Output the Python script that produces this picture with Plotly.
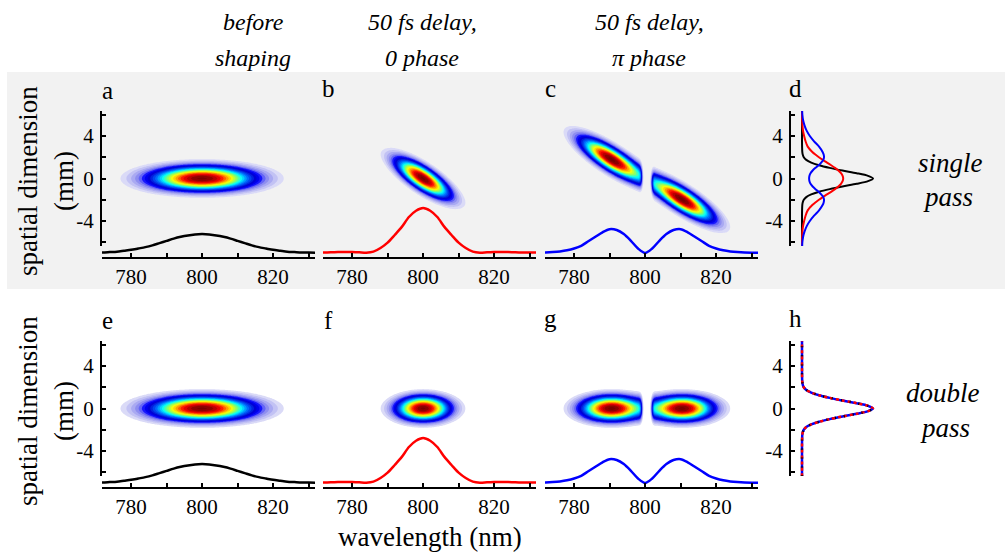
import numpy as np
import plotly.graph_objects as go

W, H = 1005, 552
FONT = "Liberation Serif"

# ---------------- data ----------------
# spectra (bottom curves of panels a/e, b/f, c/g), relative intensity
wl_spec = [770, 772, 774, 776, 778, 780, 782, 784, 786, 788, 790, 792, 794, 796, 798, 800,
           802, 804, 806, 808, 810, 812, 814, 816, 818, 820, 822, 824, 826, 828, 830, 832]
spec_before = [0.01, 0.01, 0.02, 0.03, 0.05, 0.07, 0.10, 0.13, 0.17, 0.22, 0.27, 0.32, 0.36, 0.39, 0.41, 0.42,
               0.41, 0.39, 0.36, 0.32, 0.27, 0.22, 0.17, 0.13, 0.10, 0.07, 0.05, 0.03, 0.02, 0.01, 0.01, 0.005]
spec_zero_phase = [0.01, 0.012, 0.015, 0.02, 0.022, 0.02, 0.015, 0.008, 0.03, 0.11, 0.23, 0.40, 0.58, 0.80, 0.94, 1.0,
                   0.94, 0.80, 0.58, 0.40, 0.23, 0.11, 0.03, 0.008, 0.015, 0.02, 0.022, 0.02, 0.015, 0.012, 0.01, 0.01]
spec_pi_phase = [0.005, 0.01, 0.02, 0.035, 0.06, 0.10, 0.16, 0.26, 0.36, 0.46, 0.53, 0.51, 0.42, 0.27, 0.10, 0.0,
                 0.10, 0.27, 0.42, 0.51, 0.53, 0.46, 0.36, 0.26, 0.16, 0.10, 0.06, 0.035, 0.02, 0.01, 0.005, 0.003]

# spatial profiles (panels d and h)
y_prof = [-6.4, -6, -5.5, -5, -4.5, -4, -3.5, -3, -2.5, -2.25, -2, -1.75, -1.5, -1.25, -1, -0.75, -0.5, -0.25, 0,
          0.25, 0.5, 0.75, 1, 1.25, 1.5, 1.75, 2, 2.25, 2.5, 3, 3.5, 4, 4.5, 5, 5.5, 6, 6.4]
prof_before = [0, 0, 0, 0, 0, 0, 0, 0.001, 0.004, 0.01, 0.025, 0.06, 0.13, 0.24, 0.39, 0.57, 0.77, 0.93, 1.0,
               0.93, 0.77, 0.57, 0.39, 0.24, 0.13, 0.06, 0.025, 0.01, 0.004, 0.001, 0, 0, 0, 0, 0, 0, 0]
prof_zero_phase = [0, 0, 0.002, 0.006, 0.014, 0.03, 0.05, 0.08, 0.145, 0.188, 0.238, 0.293, 0.352, 0.41, 0.465, 0.512,
                   0.549, 0.572, 0.58, 0.572, 0.549, 0.512, 0.465, 0.41, 0.352, 0.293, 0.238, 0.188, 0.145, 0.08,
                   0.05, 0.03, 0.014, 0.006, 0.002, 0, 0]
prof_pi_phase = [0.002, 0.005, 0.015, 0.035, 0.065, 0.11, 0.17, 0.24, 0.29, 0.305, 0.31, 0.30, 0.27, 0.235, 0.19,
                 0.15, 0.12, 0.105, 0.10, 0.105, 0.12, 0.15, 0.19, 0.235, 0.27, 0.30, 0.31, 0.305, 0.29, 0.24,
                 0.17, 0.11, 0.065, 0.035, 0.015, 0.005, 0.002]

# 2-D field model parameters (Gaussian spectral lobes x Gaussian beam, spatial chirp)
lobe_wl_before = [800.0]
lobe_amp_before = [1.0]
lobe_sigma_before = [10.5]
lobe_wl_zero = [800.0, 778.4, 822.1]
lobe_amp_zero = [1.0, 0.072, 0.072]
lobe_sigma_zero = [5.36, 4.6, 4.6]
lobe_wl_pi = [790.5, 810.5]
lobe_amp_pi = [1.0, 1.0]
lobe_sigma_pi = [6.15, 6.15]
pi_node_wl = 800.5
beam_sigma_mm = 0.83
# spatial chirp (mm per nm): only the shaped pulses in the single pass are tilted
chirp_single = [0.0, 0.19, 0.19]
chirp_double = [0.0, 0.0, 0.0]

x_ticks = [780, 800, 820]
x_minor = [790, 810, 830]
y_ticks = [-4, 0, 4]
y_tick_text = ["-4", "0", "4"]
y_minor = [-6, -2, 2, 6]

col_titles = [["before", "shaping"], ["50 fs delay,", "0 phase"], ["50 fs delay,", "π phase"]]
row_titles = [["single", "pass"], ["double", "pass"]]
panel_letters = [["a", "b", "c", "d"], ["e", "f", "g", "h"]]

# ---------------- helpers ----------------
def PX(px):
    return px / W

def PY(py):
    return 1 - py / H

GRID_WL = np.round(np.arange(771.8, 831.85, 0.4), 2)
GRID_Y = np.round(np.arange(-6.35, 6.351, 0.127), 3)


def field(wls, amps, sigmas, chirp, node=None):
    L, Y = np.meshgrid(GRID_WL, GRID_Y)
    yc = -chirp * (L - 800.0)
    spec = np.zeros_like(L)
    for w0, a, s in zip(wls, amps, sigmas):
        spec += a * np.exp(-(L - w0) ** 2 / (2 * s ** 2))
    if node is not None:
        spec *= 1 - np.exp(-((L - node) / 1.5) ** 4)
    return np.round(spec * np.exp(-(Y - yc) ** 2 / (2 * beam_sigma_mm ** 2)), 3)


colorscale = [
    [0.0, "rgba(255,255,255,0)"], [0.05, "rgba(255,255,255,0)"],
    [0.055, "#dcdcf7"], [0.09, "#c6c6f4"], [0.13, "#acacf2"], [0.17, "#9090f0"],
    [0.22, "#5a5af8"], [0.26, "#0000ff"], [0.33, "#0000d2"], [0.45, "#0070ff"],
    [0.55, "#00ffff"], [0.64, "#90ff60"], [0.72, "#ffff00"], [0.80, "#ff8c00"],
    [0.88, "#ff0000"], [1.0, "#780000"],
]

fig = go.Figure()
layout = {}
annotations = []

col_px = [(102, 315), (323, 536), (545, 758)]
spectra = [spec_before, spec_zero_phase, spec_pi_phase]
line_colors = ["black", "#ff0000", "#0000ff"]
lobes = [
    (lobe_wl_before, lobe_amp_before, lobe_sigma_before, None),
    (lobe_wl_zero, lobe_amp_zero, lobe_sigma_zero, None),
    (lobe_wl_pi, lobe_amp_pi, lobe_sigma_pi, pi_node_wl),
]
chirps = [chirp_single, chirp_double]

tickfont = dict(family=FONT, size=21)
n_x = 0
n_y = 0
for r in range(2):
    off = 230 * r
    for c in range(3):
        n_x += 1
        ys = n_y + 1   # spectrum axis
        yc = n_y + 2   # contour axis
        n_y += 2
        xname = "xaxis" if n_x == 1 else f"xaxis{n_x}"
        xref = "x" if n_x == 1 else f"x{n_x}"
        ysname = "yaxis" if ys == 1 else f"yaxis{ys}"
        ysref = "y" if ys == 1 else f"y{ys}"
        ycname = f"yaxis{yc}"
        ycref = f"y{yc}"
        x0, x1 = col_px[c]
        layout[xname] = dict(domain=[PX(x0), PX(x1)], range=[771.8, 831.8], anchor=ysref,
                             showline=True, linewidth=2, linecolor="black", showgrid=False,
                             zeroline=False, ticks="inside", ticklen=4, tickwidth=2, tickcolor="black",
                             tickmode="array", tickvals=x_ticks, tickfont=tickfont, ticklabelstandoff=0,
                             minor=dict(tickmode="array", tickvals=x_minor, ticks="inside", ticklen=4,
                                        tickwidth=2, tickcolor="black", showgrid=False))
        layout[ysname] = dict(domain=[PY(257 + off), PY(200 + off)], range=[-0.089, 1.178],
                              anchor=xref, visible=False, showgrid=False, zeroline=False)
        layout[ycname] = dict(domain=[PY(246 + off), PY(111 + off)], range=[-6.35, 6.35], anchor=xref,
                              showline=(c == 0), linewidth=2, linecolor="black", showgrid=False,
                              zeroline=False, ticks="inside" if c == 0 else "", ticklen=4, tickwidth=2,
                              tickcolor="black", tickmode="array", tickvals=y_ticks, ticktext=y_tick_text,
                              showticklabels=(c == 0), tickfont=tickfont, ticklabelstandoff=2,
                              minor=dict(tickmode="array", tickvals=y_minor, ticks="inside" if c == 0 else "",
                                         ticklen=4, tickwidth=2, tickcolor="black", showgrid=False))
        wls, amps, sig, node = lobes[c]
        z = field(wls, amps, sig, chirps[r][c], node)
        fig.add_trace(go.Contour(x=GRID_WL, y=GRID_Y, z=z, xaxis=xref, yaxis=ycref,
                                 colorscale=colorscale, zauto=False, zmin=0, zmax=1,
                                 autocontour=False,
                                 contours=dict(start=0.055, end=1.0, size=0.036, coloring="fill"),
                                 line=dict(width=0, smoothing=1.0), showscale=False, hoverinfo="skip"))
        fig.add_trace(go.Scatter(x=wl_spec, y=spectra[c], xaxis=xref, yaxis=ysref, mode="lines",
                                 line=dict(color=line_colors[c], width=2.5, shape="spline", smoothing=0.8),
                                 hoverinfo="skip", cliponaxis=True))

    # profile panel (d / h)
    n_x += 1
    n_y += 1
    xname, xref = f"xaxis{n_x}", f"x{n_x}"
    yname, yref = f"yaxis{n_y}", f"y{n_y}"
    layout[xname] = dict(domain=[PX(791), PX(900)], range=[-0.155, 1.38], anchor=yref, visible=False)
    layout[yname] = dict(domain=[PY(246 + off), PY(111 + off)], range=[-6.35, 6.35], anchor=xref,
                         showline=True, linewidth=2, linecolor="black", showgrid=False, zeroline=False,
                         ticks="inside", ticklen=4, tickwidth=2, tickcolor="black", tickmode="array",
                         tickvals=y_ticks, ticktext=y_tick_text, tickfont=tickfont, ticklabelstandoff=2,
                         minor=dict(tickmode="array", tickvals=y_minor, ticks="inside", ticklen=4,
                                    tickwidth=2, tickcolor="black", showgrid=False))
    if r == 0:
        for vals, col in zip([prof_before, prof_zero_phase, prof_pi_phase], line_colors):
            fig.add_trace(go.Scatter(x=vals, y=y_prof, xaxis=xref, yaxis=yref, mode="lines",
                                     line=dict(color=col, width=2, shape="spline", smoothing=0.8),
                                     hoverinfo="skip"))
    else:
        fig.add_trace(go.Scatter(x=prof_before, y=y_prof, xaxis=xref, yaxis=yref, mode="lines",
                                 line=dict(color="#0000ff", width=2.5, shape="spline", smoothing=0.8),
                                 hoverinfo="skip"))
        fig.add_trace(go.Scatter(x=prof_before, y=y_prof, xaxis=xref, yaxis=yref, mode="lines",
                                 line=dict(color="#ff0000", width=2.5, shape="spline", smoothing=0.8,
                                           dash="3px,3px"), hoverinfo="skip"))
        fig.add_trace(go.Scatter(x=prof_before, y=y_prof, xaxis=xref, yaxis=yref, mode="lines",
                                 line=dict(color="black", width=2.5, shape="spline", smoothing=0.8,
                                           dash="1px,8px"), hoverinfo="skip"))


def ann(text, x, y, size, angle=0):
    annotations.append(dict(text=text, x=PX(x), y=PY(y), xref="paper", yref="paper", showarrow=False,
                            xanchor="center", yanchor="middle", textangle=angle,
                            font=dict(family=FONT, size=size)))


col_centers = [253, 422, 649]
for (l1, l2), cx in zip(col_titles, col_centers):
    ann(f"<i>{l1}</i>", cx, 22, 24)
    ann(f"<i>{l2}</i>", cx, 58, 24)

letter_pos = [[(107, 90), (328, 89), (550, 89), (795, 88)], [(107, 320), (328, 320), (550, 318), (795, 318)]]
for r in range(2):
    for c in range(4):
        ann(panel_letters[r][c], letter_pos[r][c][0], letter_pos[r][c][1], 25)

ann(f"<i>{row_titles[0][0]}</i>", 950, 163, 27)
ann(f"<i>{row_titles[0][1]}</i>", 948, 197, 27)
ann(f"<i>{row_titles[1][0]}</i>", 943, 393, 27)
ann(f"<i>{row_titles[1][1]}</i>", 945, 428, 27)

for r in range(2):
    ann("spatial dimension", 28, 181 + 230 * r, 27, -90)
    ann("(mm)", 64, 181 + 230 * r, 27, -90)
ann("wavelength (nm)", 430, 537, 27)

fig.update_layout(
    width=W, height=H, margin=dict(l=0, r=0, t=0, b=0),
    paper_bgcolor="white", plot_bgcolor="rgba(0,0,0,0)", showlegend=False,
    font=dict(family=FONT, color="black"),
    annotations=annotations,
    shapes=[dict(type="rect", xref="paper", yref="paper", x0=PX(7), x1=1.0, y0=PY(289), y1=PY(72),
                 fillcolor="#f2f2f2", line=dict(width=0), layer="below")],
    **layout,
)

force_font = (
    "var s=document.createElement('style');"
    "s.textContent='svg text{font-family:\"Liberation Serif\",\"Times New Roman\",serif !important;}';"
    "document.head.appendChild(s);"
)
fig.write_html("out.html", post_script=force_font)
